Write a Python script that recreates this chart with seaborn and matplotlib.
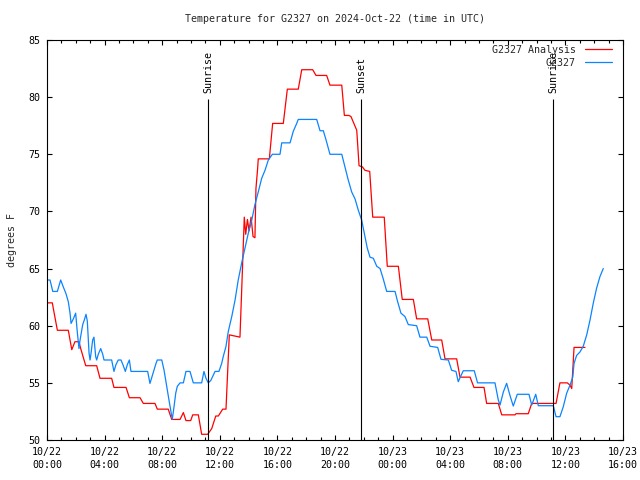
import numpy as np
import pandas as pd
import matplotlib
matplotlib.use("Agg")
import matplotlib.pyplot as plt
import seaborn as sns
from matplotlib.ticker import MultipleLocator, FixedLocator

title = "Temperature for G2327 on 2024-Oct-22 (time in UTC)"
y_label = "degrees F"
series_names = ["G2327 Analysis", "G2327"]
series_colors = ["#ff0000", "#0a84ff"]

# hours since 2024-10-22 00:00 UTC
analysis_hours = [0.00, 0.37, 0.44, 0.72, 1.48, 1.72, 1.94, 2.22, 2.34, 2.69, 3.45, 3.68,
                  4.49, 4.65, 5.49, 5.72, 6.46, 6.69, 7.50, 7.66, 8.42, 8.66, 9.24, 9.47,
                  9.65, 9.98, 10.12, 10.51, 10.74, 11.16, 11.44, 11.72, 11.90, 12.20, 12.43,
                  12.66, 13.40, 13.52, 13.70, 13.80, 13.92, 14.03, 14.17, 14.31, 14.44,
                  14.51, 14.63, 14.67, 15.44, 15.67, 16.41, 16.69, 17.45, 17.69, 18.45,
                  18.68, 19.42, 19.65, 20.47, 20.65, 20.97, 21.11, 21.51, 21.67, 21.90,
                  22.08, 22.41, 22.62, 23.42, 23.63, 24.40, 24.67, 25.44, 25.67, 26.44,
                  26.72, 27.41, 27.64, 28.45, 28.68, 29.38, 29.65, 30.35, 30.53, 31.34,
                  31.58, 32.50, 32.57, 33.42, 33.66, 35.35, 35.62, 36.13, 36.32, 36.44,
                  36.60, 37.36]
analysis_temp = [62.0, 62.0, 61.5, 59.6, 59.6, 57.9, 58.6, 58.6, 58.0, 56.5, 56.5, 55.4,
                 55.4, 54.6, 54.6, 53.7, 53.7, 53.2, 53.2, 52.7, 52.7, 51.8, 51.8, 52.4,
                 51.7, 51.7, 52.2, 52.2, 50.5, 50.5, 51.0, 52.1, 52.1, 52.7, 52.7,
                 59.2, 59.0, 63.1, 69.5, 68.0, 69.3, 68.3, 69.5, 67.8, 67.7,
                 72.0, 73.8, 74.6, 74.6, 77.7, 77.7, 80.7, 80.7, 82.4, 82.4,
                 81.9, 81.9, 81.05, 81.05, 78.4, 78.4, 78.3, 77.1, 74.0, 73.9,
                 73.6, 73.5, 69.5, 69.5, 65.2, 65.2, 62.3, 62.3, 60.6, 60.6,
                 58.75, 58.75, 57.1, 57.1, 55.5, 55.5, 54.6, 54.6, 53.2, 53.2,
                 52.2, 52.2, 52.3, 52.3, 53.2, 53.2, 55.0, 55.0, 54.8, 54.5,
                 58.1, 58.1]

obs_hours = [0.00, 0.21, 0.40, 0.72, 0.95, 1.13, 1.32, 1.48, 1.60, 1.67, 1.83, 1.99,
             2.10, 2.22, 2.29, 2.48, 2.59, 2.71, 2.80, 2.92, 2.99, 3.06, 3.17, 3.26,
             3.38, 3.45, 3.56, 3.73, 3.87, 3.96, 4.49, 4.65, 4.79, 4.95, 5.14, 5.30,
             5.44, 5.58, 5.72, 5.83, 6.99, 7.15, 7.38, 7.57, 7.66, 7.97, 8.13, 8.31,
             8.47, 8.59, 8.70, 8.82, 8.94, 9.05, 9.24, 9.47, 9.65, 9.93, 10.16, 10.74,
             10.90, 11.04, 11.20, 11.37, 11.67, 11.94, 12.13, 12.24, 12.43, 12.59, 12.83,
             13.06, 13.28, 13.52, 13.75, 13.98, 14.22, 14.44, 14.67, 14.91, 15.14, 15.37,
             15.65, 16.18, 16.30, 16.88, 17.10, 17.34, 17.45, 18.73, 18.96, 19.19, 19.38,
             19.65, 20.47, 20.69, 20.92, 21.16, 21.39, 21.62, 21.85, 22.08, 22.24, 22.43,
             22.66, 22.90, 23.13, 23.35, 23.59, 24.17, 24.35, 24.58, 24.86, 25.09, 25.67,
             25.90, 26.37, 26.60, 27.13, 27.36, 27.87, 28.10, 28.40, 28.56, 28.70, 28.91,
             29.67, 29.90, 31.11, 31.34, 31.46, 31.69, 31.92, 32.15, 32.38, 32.66, 33.47,
             33.66, 33.94, 34.12, 35.16, 35.35, 35.62, 35.85, 36.09, 36.32, 36.51, 36.60,
             36.78, 37.01, 37.24, 37.48, 37.71, 37.94, 38.17, 38.40, 38.63]
obs_temp = [64.0, 64.0, 63.0, 63.0, 64.0, 63.4, 62.8, 62.1, 61.1, 60.2, 60.6, 61.1,
            59.5, 58.0, 58.7, 60.1, 60.5, 61.0, 60.4, 57.6, 57.0, 57.6, 58.75, 59.0,
            57.3, 57.0, 57.5, 58.0, 57.5, 57.0, 57.0, 56.0, 56.6, 57.0, 57.0, 56.5,
            56.0, 56.6, 57.0, 56.0, 56.0, 54.95, 55.9, 56.7, 57.0, 57.0, 56.1, 54.7,
            53.5, 52.6, 51.8, 52.9, 54.1, 54.7, 55.0, 55.0, 56.0, 56.0, 55.0, 55.0,
            56.0, 55.4, 55.0, 55.2, 56.0, 56.0, 56.7, 57.3, 58.2, 59.5, 60.8,
            62.25, 64.0, 65.5, 66.8, 68.1, 69.25, 70.6, 71.7, 72.9, 73.6, 74.5,
            75.0, 75.0, 76.0, 76.0, 77.0, 77.7, 78.05, 78.05, 77.06, 77.06, 76.25,
            75.0, 75.0, 73.9, 72.75, 71.7, 71.1, 70.1, 69.25, 67.8, 66.8, 66.0,
            65.9, 65.2, 65.0, 64.1, 63.0, 63.0, 62.1, 61.1, 60.8, 60.1, 60.0,
            59.0, 59.0, 58.2, 58.1, 57.06, 57.0, 56.1, 56.0, 55.1, 55.5, 56.06,
            56.06, 55.0, 55.0, 53.5, 53.06, 54.2, 54.96, 53.9, 52.97, 54.0, 54.0,
            53.06, 54.0, 53.0, 53.0, 52.04, 52.04, 52.9, 54.1, 54.8, 55.5, 56.7,
            57.4, 57.7, 58.2, 59.2, 60.5, 62.0, 63.3, 64.3, 65.0]

sun_labels = ["Sunrise", "Sunset", "Sunrise"]
sun_hours = [11.18, 21.80, 35.14]

x_ticks = [0, 4, 8, 12, 16, 20, 24, 28, 32, 36, 40]
x_tick_labels = ["10/22\n00:00", "10/22\n04:00", "10/22\n08:00", "10/22\n12:00",
                 "10/22\n16:00", "10/22\n20:00", "10/23\n00:00", "10/23\n04:00",
                 "10/23\n08:00", "10/23\n12:00", "10/23\n16:00"]
y_ticks = [50, 55, 60, 65, 70, 75, 80, 85]

df = pd.concat([
    pd.DataFrame({"hour": analysis_hours, "temp": analysis_temp, "series": series_names[0]}),
    pd.DataFrame({"hour": obs_hours, "temp": obs_temp, "series": series_names[1]}),
], ignore_index=True)

sns.set_theme(style="ticks")
plt.rcParams["font.family"] = ["DejaVu Sans Mono"]
plt.rcParams["font.size"] = 7.2
plt.rcParams["axes.linewidth"] = 0.8

fig = plt.figure(figsize=(6.4, 4.8), dpi=100)
ax = fig.add_axes([47 / 640, 40 / 480, 576 / 640, 400 / 480])

sns.lineplot(data=df, x="hour", y="temp", hue="series", hue_order=series_names,
             palette=dict(zip(series_names, series_colors)), sort=False,
             estimator=None, linewidth=0.9, ax=ax)

ax.set_xlim(0, 40)
ax.set_ylim(50, 85)

for h, lab in zip(sun_hours, sun_labels):
    ax.vlines(h, 50, 79.8, color="black", linewidth=0.8)
    ax.text(h, 80.35, lab, rotation=90, ha="center", va="bottom", fontsize=7.2,
            color="black")

ax.xaxis.set_major_locator(FixedLocator(x_ticks))
ax.set_xticklabels(x_tick_labels, linespacing=1.35)
ax.xaxis.set_minor_locator(MultipleLocator(1))
ax.yaxis.set_major_locator(FixedLocator(y_ticks))
ax.set_yticklabels([str(v) for v in y_ticks])
ax.tick_params(which="both", direction="in", top=True, right=True, colors="black",
               width=0.8)
ax.tick_params(which="major", length=3.8, labelsize=7.2)
ax.tick_params(axis="x", which="major", pad=5)
ax.tick_params(axis="y", which="major", pad=5)
ax.tick_params(which="minor", length=2.2)
for s in ax.spines.values():
    s.set_color("black")
    s.set_linewidth(0.8)

ax.set_xlabel("")
ax.set_ylabel(y_label, fontsize=7.2, labelpad=8)
ax.set_title(title, fontsize=7.2, pad=13)

leg = ax.legend(loc="upper right", bbox_to_anchor=(1 - 10 / 576, 1 - 4 / 400),
                frameon=False, markerfirst=False,
                handlelength=2.7, handletextpad=0.9, labelspacing=0.3,
                borderaxespad=0.0, borderpad=0.1, fontsize=7.2)
for line, c in zip(leg.get_lines(), series_colors):
    line.set_linewidth(0.9)
    line.set_color(c)

fig.savefig("out.png", dpi=100)
